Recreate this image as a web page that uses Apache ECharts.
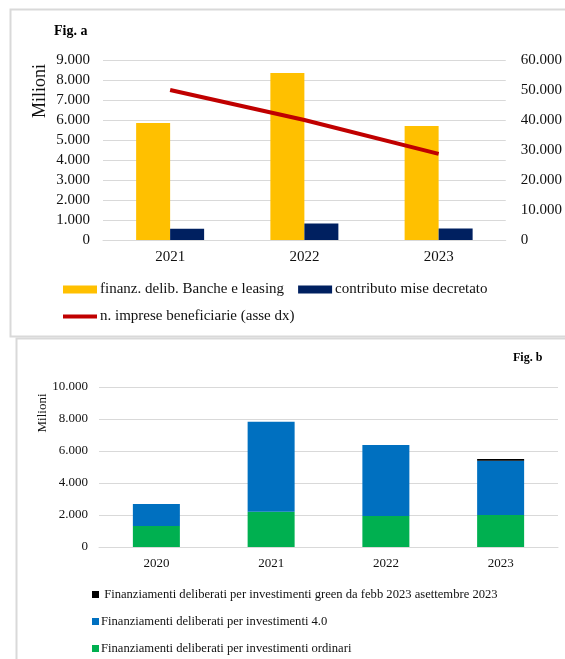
<!DOCTYPE html>
<html>
<head>
<meta charset="utf-8">
<script src="https://cdn.jsdelivr.net/npm/echarts@6/dist/echarts.min.js"></script>
<style>
html,body{margin:0;padding:0;background:#fff;}
#c{width:565px;height:659px;}
</style>
</head>
<body>
<div id="c"></div>
<script>
// Fig. a data
var yearsA = ['2021', '2022', '2023'];
var finanzBanche = [5850, 8350, 5700];
var contributoMise = [560, 830, 580];
var impreseBenef = [50000, 40000, 28700];
var namesA = ['finanz. delib. Banche e leasing', 'contributo mise decretato', 'n. imprese beneficiarie (asse dx)'];

// Fig. b data
var yearsB = ['2020', '2021', '2022', '2023'];
var invOrdinari = [1310, 2200, 1940, 2000];
var inv40 = [1380, 5630, 4440, 3390];
var invGreen = [null, null, null, 110];
var namesB = ['Finanziamenti deliberati per investimenti green da febb 2023 asettembre 2023',
              'Finanziamenti deliberati per investimenti 4.0',
              'Finanziamenti deliberati per investimenti ordinari'];

var FONT = '"Liberation Serif", "Times New Roman", serif';
var TXT = '#111';
var GRID = '#d9d9d9';
function fmt(v){ return String(v).replace(/\B(?=(\d{3})+(?!\d))/g, '.'); }

var chart = echarts.init(document.getElementById('c'), null, {renderer: 'canvas'});
chart.setOption({
  animation: false,
  backgroundColor: '#fff',
  textStyle: {fontFamily: FONT, color: TXT},
  graphic: [
    {type: 'rect', shape: {x: 10.5, y: 9.5, width: 600, height: 327}, style: {fill: 'none', stroke: '#d9d9d9', lineWidth: 2}, z: -1},
    {type: 'rect', shape: {x: 16.5, y: 338.5, width: 600, height: 400}, style: {fill: 'none', stroke: '#d9d9d9', lineWidth: 2}, z: -1},
    {type: 'text', x: 40, y: 91, rotation: Math.PI / 2, style: {text: 'Milioni', font: '18px ' + FONT, fill: TXT, align: 'center', verticalAlign: 'middle'}},
    {type: 'text', x: 43, y: 413, rotation: Math.PI / 2, style: {text: 'Milioni', font: '13px ' + FONT, fill: TXT, align: 'center', verticalAlign: 'middle'}}
  ],
  title: [
    {text: 'Fig. a', left: 54, top: 24, padding: 0, textStyle: {fontFamily: FONT, fontSize: 14, fontWeight: 'bold', color: '#000'}},
    {text: 'Fig. b', left: 513, top: 352, padding: 0, textStyle: {fontFamily: FONT, fontSize: 12, fontWeight: 'bold', color: '#000'}}
  ],
  legend: [
    {data: [namesA[0], namesA[1]], left: 63, top: 282, padding: 0, itemWidth: 34, itemHeight: 8, itemGap: 14,
     icon: 'rect', textStyle: {fontFamily: FONT, fontSize: 15, color: TXT, padding: [0, 0, 0, -2]}},
    {data: [namesA[2]], left: 63, top: 309, padding: 0, itemWidth: 34, itemHeight: 4,
     icon: 'rect', textStyle: {fontFamily: FONT, fontSize: 15, color: TXT, padding: [0, 0, 0, -2]}},
    {data: namesB, orient: 'vertical', left: 92, top: 588, padding: 0, itemWidth: 7, itemHeight: 7, itemGap: 14,
     icon: 'rect', textStyle: {fontFamily: FONT, fontSize: 12.6, color: TXT, padding: [0, 0, 0, -3]},
     formatter: function(n){ return n === namesB[0] ? ' ' + n : n; }}
  ],
  grid: [
    {left: 103, right: 53, top: 60, height: 180},
    {left: 99, right: 7, top: 387, height: 160}
  ],
  xAxis: [
    {type: 'category', data: yearsA, gridIndex: 0, axisTick: {show: false},
     axisLine: {lineStyle: {color: GRID, width: 1}},
     axisLabel: {fontFamily: FONT, fontSize: 15, color: TXT, margin: 10}},
    {type: 'category', data: yearsB, gridIndex: 1, axisTick: {show: false},
     axisLine: {lineStyle: {color: GRID, width: 1}},
     axisLabel: {fontFamily: FONT, fontSize: 13, color: TXT, margin: 10}}
  ],
  yAxis: [
    {type: 'value', gridIndex: 0, min: 0, max: 9000, interval: 1000,
     axisLine: {show: false}, axisTick: {show: false},
     splitLine: {lineStyle: {color: GRID, width: 1}},
     axisLabel: {fontFamily: FONT, fontSize: 15, color: TXT, margin: 13, formatter: fmt}},
    {type: 'value', gridIndex: 0, min: 0, max: 60000, interval: 10000, position: 'right',
     axisLine: {show: false}, axisTick: {show: false}, splitLine: {show: false},
     axisLabel: {fontFamily: FONT, fontSize: 15, color: TXT, margin: 15, formatter: fmt}},
    {type: 'value', gridIndex: 1, min: 0, max: 10000, interval: 2000,
     axisLine: {show: false}, axisTick: {show: false},
     splitLine: {lineStyle: {color: GRID, width: 1}},
     axisLabel: {fontFamily: FONT, fontSize: 13, color: TXT, margin: 11, formatter: fmt}}
  ],
  series: [
    {name: namesA[0], type: 'bar', xAxisIndex: 0, yAxisIndex: 0, data: finanzBanche, barWidth: 34, barGap: '0%',
     itemStyle: {color: '#FFC000'}},
    {name: namesA[1], type: 'bar', xAxisIndex: 0, yAxisIndex: 0, data: contributoMise, barWidth: 34, barGap: '0%',
     itemStyle: {color: '#002060'}},
    {name: namesA[2], type: 'line', xAxisIndex: 0, yAxisIndex: 1, data: impreseBenef, showSymbol: false, symbol: 'none',
     itemStyle: {color: '#C00000'}, lineStyle: {color: '#C00000', width: 4}},
    {name: namesB[2], type: 'bar', stack: 'b', xAxisIndex: 1, yAxisIndex: 2, data: invOrdinari, barWidth: 47,
     itemStyle: {color: '#00B050'}},
    {name: namesB[1], type: 'bar', stack: 'b', xAxisIndex: 1, yAxisIndex: 2, data: inv40, barWidth: 47,
     itemStyle: {color: '#0070C0'}},
    {name: namesB[0], type: 'bar', stack: 'b', xAxisIndex: 1, yAxisIndex: 2, data: invGreen, barWidth: 47,
     itemStyle: {color: '#000000'}}
  ]
});
</script>
</body>
</html>
